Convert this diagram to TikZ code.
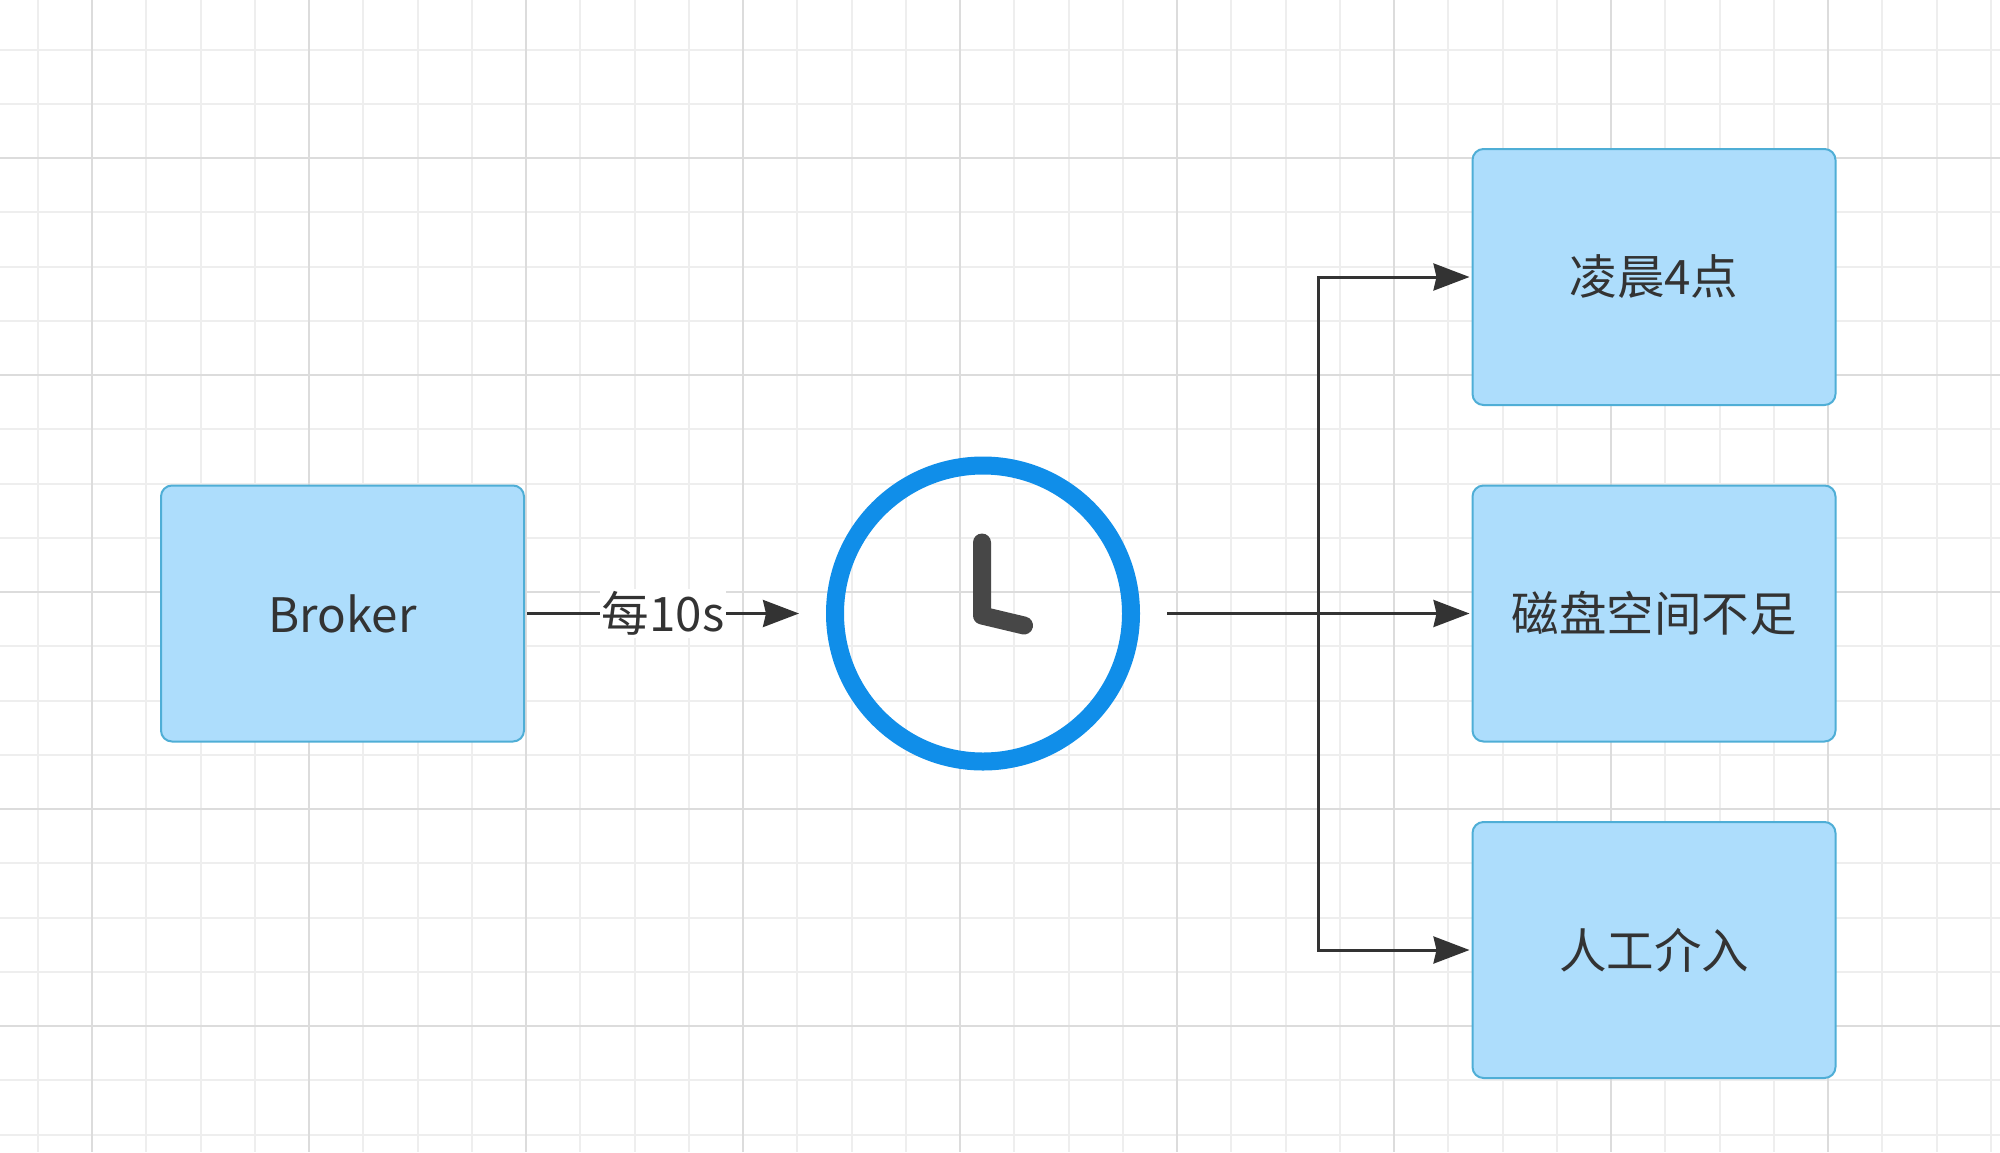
\documentclass[tikz,border=0pt]{standalone}
\usepackage{fontspec}
\setmainfont{Noto Sans CJK SC}
\usetikzlibrary{arrows.meta}
\definecolor{gridminor}{HTML}{EEEEEE}
\definecolor{gridmajor}{HTML}{DCDCDC}
\definecolor{boxfill}{HTML}{ADDDFC}
\definecolor{boxline}{HTML}{4FAED6}
\definecolor{ringblue}{HTML}{108EE9}
\definecolor{inkdark}{HTML}{333333}
\tikzset{
  boxnode/.style={draw=boxline,fill=boxfill,line width=2pt,rounded corners=11pt,minimum width=363pt,minimum height=256pt,outer sep=3pt,inner sep=0pt,text=inkdark,font=\fontsize{47.5}{50}\selectfont},
  linkarrow/.style={draw=inkdark,line width=3pt,-{Stealth[length=36pt,width=27pt,inset=3pt]}},
  ringnode/.style={circle,draw=ringblue,line width=18pt,minimum size=296pt,outer sep=36pt,inner sep=0pt},
  clockhand/.style={draw=inkdark!90,line width=18pt,line cap=round,line join=round},
  gapnote/.style={fill=white,inner sep=2pt,text=inkdark,font=\fontsize{47.5}{50}\selectfont}
}
\begin{document}
\begin{tikzpicture}[x=1pt,y=-1pt]
\useasboundingbox (0,0) rectangle (2000,1152);
\fill[white] (0,0) rectangle (2000,1152);
\foreach \k in {-1,...,35} \draw[gridminor,line width=2pt] ({92+\k*54.25},0) -- ({92+\k*54.25},1152);
\foreach \k in {-2,...,18} \draw[gridminor,line width=2pt] (0,{158+\k*54.25}) -- (2000,{158+\k*54.25});
\foreach \k in {0,4,...,32} \draw[gridmajor,line width=2pt] ({92+\k*54.25},0) -- ({92+\k*54.25},1152);
\foreach \k in {0,4,...,16} \draw[gridmajor,line width=2pt] (0,{158+\k*54.25}) -- (2000,{158+\k*54.25});
\node[boxnode] (broker) at (342.5,613.5) {Broker};
\node[boxnode] (dawn) at (1654,277) {凌晨4点};
\node[boxnode] (disk) at (1654,613.5) {磁盘空间不足};
\node[boxnode] (manual) at (1654,950) {人工介入};
\node[ringnode] (clock) at (983,613.5) {};
\draw[clockhand] ([shift={(-1,-71)}]clock.center) -- ([shift={(-1,2)}]clock.center) -- ([shift={(41,12)}]clock.center);
\coordinate (branch) at (1318,613.5);
\draw[linkarrow] (broker.east) -- node[gapnote] (every) {每10s} (clock.west);
\draw[linkarrow] (clock.east) -- (disk.west);
\draw[linkarrow] (branch) |- (dawn.west);
\draw[linkarrow] (branch) |- (manual.west);
\end{tikzpicture}
\end{document}
